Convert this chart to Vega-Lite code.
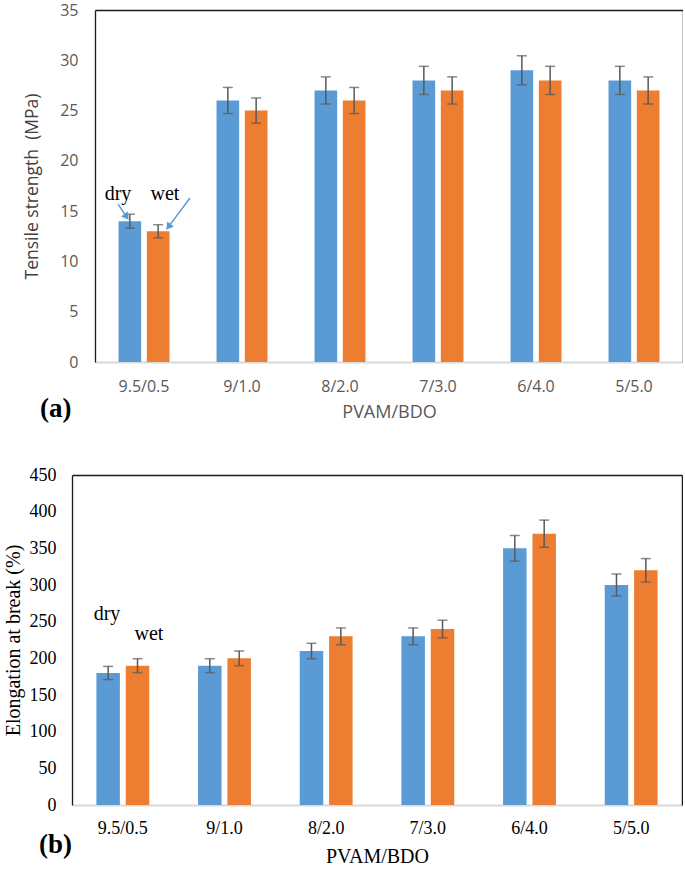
{
  "$schema": "https://vega.github.io/schema/vega-lite/v6.json",
  "padding": {"left": 3, "top": 2, "right": 0, "bottom": 0},
  "bounds": "flush",
  "spacing": 113,
  "config": {"view": {"stroke": null}, "axis": {"grid": false, "ticks": false, "tickSize": 0}},
  "vconcat": [
    {
      "width": 611,
      "height": 352,
      "title": {"text": "(a)", "orient": "bottom", "anchor": "start", "frame": "group", "dx": -32, "offset": -25, "font": "Liberation Serif", "fontSize": 27, "fontWeight": "bold", "color": "black"},
      "data": {"values": [
        {"ratio": "9.5/0.5", "cond": "dry", "mean": 14, "lo": 13.3, "hi": 14.7},
        {"ratio": "9.5/0.5", "cond": "wet", "mean": 13, "lo": 12.35, "hi": 13.65},
        {"ratio": "9/1.0", "cond": "dry", "mean": 26, "lo": 24.7, "hi": 27.3},
        {"ratio": "9/1.0", "cond": "wet", "mean": 25, "lo": 23.75, "hi": 26.25},
        {"ratio": "8/2.0", "cond": "dry", "mean": 27, "lo": 25.65, "hi": 28.35},
        {"ratio": "8/2.0", "cond": "wet", "mean": 26, "lo": 24.7, "hi": 27.3},
        {"ratio": "7/3.0", "cond": "dry", "mean": 28, "lo": 26.6, "hi": 29.4},
        {"ratio": "7/3.0", "cond": "wet", "mean": 27, "lo": 25.65, "hi": 28.35},
        {"ratio": "6/4.0", "cond": "dry", "mean": 29, "lo": 27.55, "hi": 30.45},
        {"ratio": "6/4.0", "cond": "wet", "mean": 28, "lo": 26.6, "hi": 29.4},
        {"ratio": "5/5.0", "cond": "dry", "mean": 28, "lo": 26.6, "hi": 29.4},
        {"ratio": "5/5.0", "cond": "wet", "mean": 27, "lo": 25.65, "hi": 28.35}
      ]},
      "resolve": {"scale": {"x": "independent", "xOffset": "independent"}, "axis": {"x": "independent", "y": "independent"}},
      "layer": [
        {
          "mark": {"type": "bar"},
          "encoding": {
            "x": {"field": "ratio", "type": "nominal", "sort": ["9.5/0.5", "9/1.0", "8/2.0", "7/3.0", "6/4.0", "5/5.0"],
                  "scale": {"range": [23, 611], "paddingInner": 0.48, "paddingOuter": 0.24},
                  "axis": {"title": "PVAM/BDO", "labelAngle": 0, "labelFont": "Open Sans", "labelFontSize": 16, "labelColor": "#595959", "labelPadding": 16,
                           "titleFont": "Open Sans", "titleFontSize": 18, "titleFontWeight": "normal", "titleColor": "#595959", "titlePadding": 9,
                           "domainColor": "#D9D9D9", "domainWidth": 2}},
            "xOffset": {"field": "cond", "type": "nominal", "sort": ["dry", "wet"], "scale": {"paddingInner": 0.2, "paddingOuter": 0}},
            "y": {"field": "mean", "type": "quantitative", "scale": {"domain": [0, 35]},
                  "axis": {"title": "Tensile strength\u00a0 (MPa)", "offset": -23, "values": [0, 5, 10, 15, 20, 25, 30, 35], "labelFont": "Open Sans", "labelFontSize": 16, "labelColor": "#595959", "labelPadding": 17,
                           "titleFont": "Open Sans", "titleFontSize": 17.5, "titleFontWeight": "normal", "titleColor": "#404040", "titlePadding": 18,
                           "domainColor": "#1a1a1a", "domainWidth": 1.3}},
            "color": {"field": "cond", "type": "nominal", "scale": {"domain": ["dry", "wet"], "range": ["#5B9BD5", "#ED7D31"]}, "legend": null}
          }
        },
        {
          "mark": {"type": "rule", "color": "#595959", "strokeWidth": 1.5},
          "encoding": {
            "x": {"field": "ratio", "type": "nominal", "sort": ["9.5/0.5", "9/1.0", "8/2.0", "7/3.0", "6/4.0", "5/5.0"],
                  "scale": {"range": [23, 611], "paddingInner": 0.48, "paddingOuter": 0.24},
                  "axis": {"orient": "top", "labels": false, "title": null, "domainColor": "#1a1a1a", "domainWidth": 1.5}},
            "xOffset": {"field": "cond", "type": "nominal", "sort": ["dry", "wet"], "scale": {"paddingInner": 0.2, "paddingOuter": 0}},
            "y": {"field": "lo", "type": "quantitative", "scale": {"domain": [0, 35]},
                  "axis": {"orient": "right", "labels": false, "title": null, "domainColor": "#1a1a1a", "domainWidth": 1.5}},
            "y2": {"field": "hi"}
          }
        },
        {
          "mark": {"type": "tick", "color": "#595959", "size": 10, "thickness": 1.5},
          "encoding": {
            "x": {"field": "ratio", "type": "nominal", "sort": ["9.5/0.5", "9/1.0", "8/2.0", "7/3.0", "6/4.0", "5/5.0"],
                  "scale": {"range": [23, 611], "paddingInner": 0.48, "paddingOuter": 0.24}, "axis": null},
            "xOffset": {"field": "cond", "type": "nominal", "sort": ["dry", "wet"], "scale": {"paddingInner": 0.2, "paddingOuter": 0}},
            "y": {"field": "lo", "type": "quantitative", "scale": {"domain": [0, 35]}, "axis": null}
          }
        },
        {
          "mark": {"type": "tick", "color": "#595959", "size": 10, "thickness": 1.5},
          "encoding": {
            "x": {"field": "ratio", "type": "nominal", "sort": ["9.5/0.5", "9/1.0", "8/2.0", "7/3.0", "6/4.0", "5/5.0"],
                  "scale": {"range": [23, 611], "paddingInner": 0.48, "paddingOuter": 0.24}, "axis": null},
            "xOffset": {"field": "cond", "type": "nominal", "sort": ["dry", "wet"], "scale": {"paddingInner": 0.2, "paddingOuter": 0}},
            "y": {"field": "hi", "type": "quantitative", "scale": {"domain": [0, 35]}, "axis": null}
          }
        },
        {
          "data": {"values": [
            {"x": 0.235, "y": 15.7, "x2": 0.322, "y2": 14.43},
            {"x": 0.969, "y": 16.3, "x2": 0.749, "y2": 13.44}
          ]},
          "mark": {"type": "rule", "color": "#5B9BD5", "strokeWidth": 1.5},
          "encoding": {
            "x": {"field": "x", "type": "quantitative", "scale": {"domain": [0, 6], "range": [23, 611]}, "axis": null},
            "x2": {"field": "x2"},
            "y": {"field": "y", "type": "quantitative", "scale": {"domain": [0, 35]}, "axis": null},
            "y2": {"field": "y2"}
          }
        },
        {
          "data": {"values": [{"x": 0.322, "y": 14.43}]},
          "mark": {"type": "point", "shape": "triangle-up", "filled": true, "color": "#5B9BD5", "opacity": 1, "size": 70, "angle": 144},
          "encoding": {
            "x": {"field": "x", "type": "quantitative", "scale": {"domain": [0, 6], "range": [23, 611]}, "axis": null},
            "y": {"field": "y", "type": "quantitative", "scale": {"domain": [0, 35]}, "axis": null}
          }
        },
        {
          "data": {"values": [{"x": 0.749, "y": 13.44}]},
          "mark": {"type": "point", "shape": "triangle-up", "filled": true, "color": "#5B9BD5", "opacity": 1, "size": 70, "angle": 217},
          "encoding": {
            "x": {"field": "x", "type": "quantitative", "scale": {"domain": [0, 6], "range": [23, 611]}, "axis": null},
            "y": {"field": "y", "type": "quantitative", "scale": {"domain": [0, 35]}, "axis": null}
          }
        },
        {
          "data": {"values": [
            {"label": "dry", "x": 0.235, "y": 16.7},
            {"label": "wet", "x": 0.714, "y": 16.7}
          ]},
          "mark": {"type": "text", "font": "Liberation Serif", "fontSize": 20, "color": "black", "baseline": "middle"},
          "encoding": {
            "x": {"field": "x", "type": "quantitative", "scale": {"domain": [0, 6], "range": [23, 611]}, "axis": null},
            "y": {"field": "y", "type": "quantitative", "scale": {"domain": [0, 35]}, "axis": null},
            "text": {"field": "label"}
          }
        }
      ]
    },
    {
      "width": 610,
      "height": 330,
      "title": {"text": "(b)", "orient": "bottom", "anchor": "start", "frame": "group", "dx": -33, "offset": -34, "font": "Liberation Serif", "fontSize": 27, "fontWeight": "bold", "color": "black"},
      "data": {"values": [
        {"ratio": "9.5/0.5", "cond": "dry", "mean": 180, "lo": 171, "hi": 189},
        {"ratio": "9.5/0.5", "cond": "wet", "mean": 190, "lo": 180.5, "hi": 199.5},
        {"ratio": "9/1.0", "cond": "dry", "mean": 190, "lo": 180.5, "hi": 199.5},
        {"ratio": "9/1.0", "cond": "wet", "mean": 200, "lo": 190, "hi": 210},
        {"ratio": "8/2.0", "cond": "dry", "mean": 210, "lo": 199.5, "hi": 220.5},
        {"ratio": "8/2.0", "cond": "wet", "mean": 230, "lo": 218.5, "hi": 241.5},
        {"ratio": "7/3.0", "cond": "dry", "mean": 230, "lo": 218.5, "hi": 241.5},
        {"ratio": "7/3.0", "cond": "wet", "mean": 240, "lo": 228, "hi": 252},
        {"ratio": "6/4.0", "cond": "dry", "mean": 350, "lo": 332.5, "hi": 367.5},
        {"ratio": "6/4.0", "cond": "wet", "mean": 370, "lo": 351.5, "hi": 388.5},
        {"ratio": "5/5.0", "cond": "dry", "mean": 300, "lo": 285, "hi": 315},
        {"ratio": "5/5.0", "cond": "wet", "mean": 320, "lo": 304, "hi": 336}
      ]},
      "resolve": {"scale": {"x": "independent", "xOffset": "independent"}, "axis": {"x": "independent", "y": "independent"}},
      "layer": [
        {
          "mark": {"type": "bar"},
          "encoding": {
            "x": {"field": "ratio", "type": "nominal", "sort": ["9.5/0.5", "9/1.0", "8/2.0", "7/3.0", "6/4.0", "5/5.0"],
                  "scale": {"paddingInner": 0.48, "paddingOuter": 0.24},
                  "axis": {"title": "PVAM/BDO", "labelAngle": 0, "labelFont": "Liberation Serif", "labelFontSize": 18, "labelColor": "black", "labelPadding": 14,
                           "titleFont": "Liberation Serif", "titleFontSize": 20, "titleFontWeight": "normal", "titleColor": "black", "titlePadding": 9,
                           "domainColor": "#D9D9D9", "domainWidth": 2}},
            "xOffset": {"field": "cond", "type": "nominal", "sort": ["dry", "wet"], "scale": {"paddingInner": 0.2, "paddingOuter": 0}},
            "y": {"field": "mean", "type": "quantitative", "scale": {"domain": [0, 450]},
                  "axis": {"title": "Elongation at break (%)", "values": [0, 50, 100, 150, 200, 250, 300, 350, 400, 450], "labelFont": "Liberation Serif", "labelFontSize": 18, "labelColor": "black", "labelPadding": 16,
                           "titleFont": "Liberation Serif", "titleFontSize": 20, "titleFontWeight": "normal", "titleColor": "black", "titlePadding": 6,
                           "domainColor": "#1a1a1a", "domainWidth": 1.3}},
            "color": {"field": "cond", "type": "nominal", "scale": {"domain": ["dry", "wet"], "range": ["#5B9BD5", "#ED7D31"]}, "legend": null}
          }
        },
        {
          "mark": {"type": "rule", "color": "#595959", "strokeWidth": 1.5},
          "encoding": {
            "x": {"field": "ratio", "type": "nominal", "sort": ["9.5/0.5", "9/1.0", "8/2.0", "7/3.0", "6/4.0", "5/5.0"],
                  "scale": {"paddingInner": 0.48, "paddingOuter": 0.24},
                  "axis": {"orient": "top", "labels": false, "title": null, "domainColor": "#1a1a1a", "domainWidth": 1.5}},
            "xOffset": {"field": "cond", "type": "nominal", "sort": ["dry", "wet"], "scale": {"paddingInner": 0.2, "paddingOuter": 0}},
            "y": {"field": "lo", "type": "quantitative", "scale": {"domain": [0, 450]},
                  "axis": {"orient": "right", "labels": false, "title": null, "domainColor": "#1a1a1a", "domainWidth": 1.5}},
            "y2": {"field": "hi"}
          }
        },
        {
          "mark": {"type": "tick", "color": "#595959", "size": 10, "thickness": 1.5},
          "encoding": {
            "x": {"field": "ratio", "type": "nominal", "sort": ["9.5/0.5", "9/1.0", "8/2.0", "7/3.0", "6/4.0", "5/5.0"],
                  "scale": {"paddingInner": 0.48, "paddingOuter": 0.24}, "axis": null},
            "xOffset": {"field": "cond", "type": "nominal", "sort": ["dry", "wet"], "scale": {"paddingInner": 0.2, "paddingOuter": 0}},
            "y": {"field": "lo", "type": "quantitative", "scale": {"domain": [0, 450]}, "axis": null}
          }
        },
        {
          "mark": {"type": "tick", "color": "#595959", "size": 10, "thickness": 1.5},
          "encoding": {
            "x": {"field": "ratio", "type": "nominal", "sort": ["9.5/0.5", "9/1.0", "8/2.0", "7/3.0", "6/4.0", "5/5.0"],
                  "scale": {"paddingInner": 0.48, "paddingOuter": 0.24}, "axis": null},
            "xOffset": {"field": "cond", "type": "nominal", "sort": ["dry", "wet"], "scale": {"paddingInner": 0.2, "paddingOuter": 0}},
            "y": {"field": "hi", "type": "quantitative", "scale": {"domain": [0, 450]}, "axis": null}
          }
        },
        {
          "data": {"values": [
            {"label": "dry", "x": 0.344, "y": 260},
            {"label": "wet", "x": 0.757, "y": 233}
          ]},
          "mark": {"type": "text", "font": "Liberation Serif", "fontSize": 20, "color": "black", "baseline": "middle"},
          "encoding": {
            "x": {"field": "x", "type": "quantitative", "scale": {"domain": [0, 6]}, "axis": null},
            "y": {"field": "y", "type": "quantitative", "scale": {"domain": [0, 450]}, "axis": null},
            "text": {"field": "label"}
          }
        }
      ]
    }
  ]
}
